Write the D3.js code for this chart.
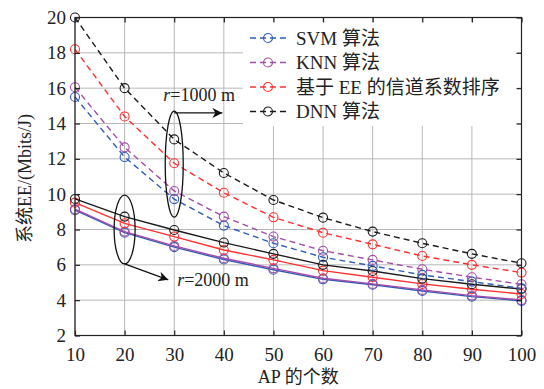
<!DOCTYPE html>
<html>
<head>
<meta charset="utf-8">
<script src="https://cdn.jsdelivr.net/npm/d3@7"></script>
<style>
  body { margin: 0; background: #fff; }
  text { font-family: "Liberation Serif", "Noto Sans CJK SC", serif; fill: #222; }
</style>
</head>
<body>
<div id="chart"></div>
<script>
// AP counts on the x axis
const apCounts = [10, 20, 30, 40, 50, 60, 70, 80, 90, 100];

// r = 1000 m (dashed)
const svm1000 = [15.5, 12.1, 9.72, 8.22, 7.22, 6.43, 5.94, 5.43, 5.05, 4.67];
const knn1000 = [16.05, 12.65, 10.18, 8.73, 7.6, 6.8, 6.28, 5.75, 5.3, 4.9];
const ee1000  = [18.2, 14.4, 11.75, 10.08, 8.69, 7.82, 7.16, 6.5, 6.0, 5.56];
const dnn1000 = [20.0, 16.0, 13.1, 11.2, 9.67, 8.67, 7.88, 7.22, 6.62, 6.09];

// r = 2000 m (solid)
const svm2000 = [9.1, 7.82, 7.0, 6.3, 5.72, 5.18, 4.87, 4.52, 4.2, 3.96];
const knn2000 = [9.15, 7.88, 7.07, 6.37, 5.8, 5.24, 4.92, 4.58, 4.26, 4.01];
const ee2000  = [9.52, 8.35, 7.6, 6.84, 6.28, 5.67, 5.3, 4.92, 4.62, 4.35];
const dnn2000 = [9.73, 8.73, 7.97, 7.26, 6.62, 6.0, 5.65, 5.22, 4.9, 4.63];

const legendLabels = ["SVM 算法", "KNN 算法", "基于 EE 的信道系数排序", "DNN 算法"];
const colors = ["#2f5db5", "#a44ca8", "#ff3030", "#1a1a1a"];
const xTicks = [10, 20, 30, 40, 50, 60, 70, 80, 90, 100];
const yTicks = [2, 4, 6, 8, 10, 12, 14, 16, 18, 20];

const W = 544, H = 389;
const margin = {top: 17.5, right: 22.5, bottom: 53.5, left: 75};

const svg = d3.select("#chart").append("svg")
  .attr("width", W).attr("height", H);
svg.append("rect").attr("width", W).attr("height", H).attr("fill", "#fff");

const x = d3.scaleLinear().domain([10, 100]).range([margin.left, W - margin.right]);
const y = d3.scaleLinear().domain([2, 20]).range([H - margin.bottom, margin.top]);

// grid
const grid = svg.append("g").attr("stroke", "#b8b8b8").attr("stroke-width", 1);
grid.selectAll(".gx").data(xTicks).join("line")
  .attr("x1", d => x(d)).attr("x2", d => x(d))
  .attr("y1", y(2)).attr("y2", y(20));
grid.selectAll(".gy").data(yTicks).join("line")
  .attr("x1", x(10)).attr("x2", x(100))
  .attr("y1", d => y(d)).attr("y2", d => y(d));

// series
const series = [
  {v: svm2000, c: 0, dash: null}, {v: knn2000, c: 1, dash: null},
  {v: ee2000, c: 2, dash: null}, {v: dnn2000, c: 3, dash: null},
  {v: svm1000, c: 0, dash: "6,4"}, {v: knn1000, c: 1, dash: "6,4"},
  {v: ee1000, c: 2, dash: "6,4"}, {v: dnn1000, c: 3, dash: "6,4"}
];
const line = d3.line().x((d, i) => x(apCounts[i])).y(d => y(d));

series.forEach(s => {
  svg.append("path")
    .datum(s.v)
    .attr("fill", "none")
    .attr("stroke", colors[s.c])
    .attr("stroke-width", 1.4)
    .attr("stroke-dasharray", s.dash)
    .attr("d", line);
  svg.append("g").selectAll("circle").data(s.v).join("circle")
    .attr("cx", (d, i) => x(apCounts[i]))
    .attr("cy", d => y(d))
    .attr("r", 4.5)
    .attr("fill", "none")
    .attr("stroke", colors[s.c])
    .attr("stroke-width", 1.1);
});

// annotations
const ann = svg.append("g").attr("stroke", "#111").attr("stroke-width", 1.3).attr("fill", "none");
ann.append("ellipse")
  .attr("cx", x(30)).attr("cy", (y(14.7) + y(8.7)) / 2)
  .attr("rx", 9).attr("ry", (y(8.7) - y(14.7)) / 2);
ann.append("ellipse")
  .attr("cx", x(20)).attr("cy", (y(9.95) + y(6.05)) / 2)
  .attr("rx", 10.5).attr("ry", (y(6.05) - y(9.95)) / 2);

svg.append("defs").append("marker")
  .attr("id", "arr").attr("viewBox", "0 0 10 10")
  .attr("refX", 10).attr("refY", 5)
  .attr("markerWidth", 14).attr("markerHeight", 10)
  .attr("markerUnits", "userSpaceOnUse")
  .attr("orient", "auto")
  .append("path").attr("d", "M0,0 L10,5 L0,10 L3,5 Z").attr("fill", "#111");

ann.append("line")
  .attr("x1", x(30)).attr("y1", y(14.6))
  .attr("x2", x(39.7)).attr("y2", y(14.6))
  .attr("marker-end", "url(#arr)");
ann.append("line")
  .attr("x1", x(20)).attr("y1", y(6.05))
  .attr("x2", x(28.8)).attr("y2", y(5.15))
  .attr("marker-end", "url(#arr)");

function rLabel(tx, ty, val) {
  const t = svg.append("text").attr("x", tx).attr("y", ty).attr("font-size", 18);
  t.append("tspan").attr("font-style", "italic").text("r");
  t.append("tspan").text("=" + val + " m");
}
rLabel(x(27.8), y(15.3), "1000");
rLabel(x(30.6), y(4.8), "2000");

// legend
const lg = svg.append("g");
lg.append("rect")
  .attr("x", 243).attr("y", 22).attr("width", 274).attr("height", 104)
  .attr("fill", "#fff");
const items = lg.selectAll(".item").data(legendLabels).join("g")
  .attr("transform", (d, i) => `translate(0,${38 + i * 24.5})`);
items.append("line")
  .attr("x1", 250).attr("x2", 288)
  .attr("stroke", (d, i) => colors[i]).attr("stroke-width", 1.4)
  .attr("stroke-dasharray", "6,4");
items.append("circle")
  .attr("cx", 268).attr("r", 4.5)
  .attr("fill", "none").attr("stroke", (d, i) => colors[i]).attr("stroke-width", 1.1);
items.append("text")
  .attr("x", 296).attr("dy", "0.35em")
  .attr("font-size", 19)
  .text(d => d);

// frame and axes
const frame = svg.append("g");
frame.append("rect")
  .attr("x", x(10)).attr("y", y(20))
  .attr("width", x(100) - x(10)).attr("height", y(2) - y(20))
  .attr("fill", "none").attr("stroke", "#222").attr("stroke-width", 1.2);

const xAxis = svg.append("g")
  .attr("transform", `translate(0,${y(2)})`)
  .call(d3.axisBottom(x).tickValues(xTicks).tickSizeInner(-5).tickSizeOuter(0).tickPadding(12));
const xAxisTop = svg.append("g")
  .attr("transform", `translate(0,${y(20)})`)
  .call(d3.axisTop(x).tickValues(xTicks).tickSizeInner(-5).tickSizeOuter(0).tickFormat(""));
const yAxis = svg.append("g")
  .attr("transform", `translate(${x(10)},0)`)
  .call(d3.axisLeft(y).tickValues(yTicks).tickSizeInner(-5).tickSizeOuter(0).tickPadding(9));
const yAxisRight = svg.append("g")
  .attr("transform", `translate(${x(100)},0)`)
  .call(d3.axisRight(y).tickValues(yTicks).tickSizeInner(-5).tickSizeOuter(0).tickFormat(""));

[xAxis, xAxisTop, yAxis, yAxisRight].forEach(a => {
  a.select(".domain").remove();
  a.selectAll(".tick line").attr("stroke", "#222").attr("stroke-width", 1.2);
  a.selectAll(".tick text")
    .attr("font-family", "'Liberation Serif', serif")
    .attr("font-size", 19).attr("fill", "#222");
});

// axis titles
svg.append("text")
  .attr("x", (x(10) + x(100)) / 2).attr("y", 383)
  .attr("text-anchor", "middle").attr("font-size", 18)
  .text("AP 的个数");
svg.append("text")
  .attr("transform", `translate(31,${(y(2) + y(20)) / 2 + 2}) rotate(-90)`)
  .attr("text-anchor", "middle").attr("font-size", 18)
  .text("系统EE/(Mbits/J)");
</script>
</body>
</html>
